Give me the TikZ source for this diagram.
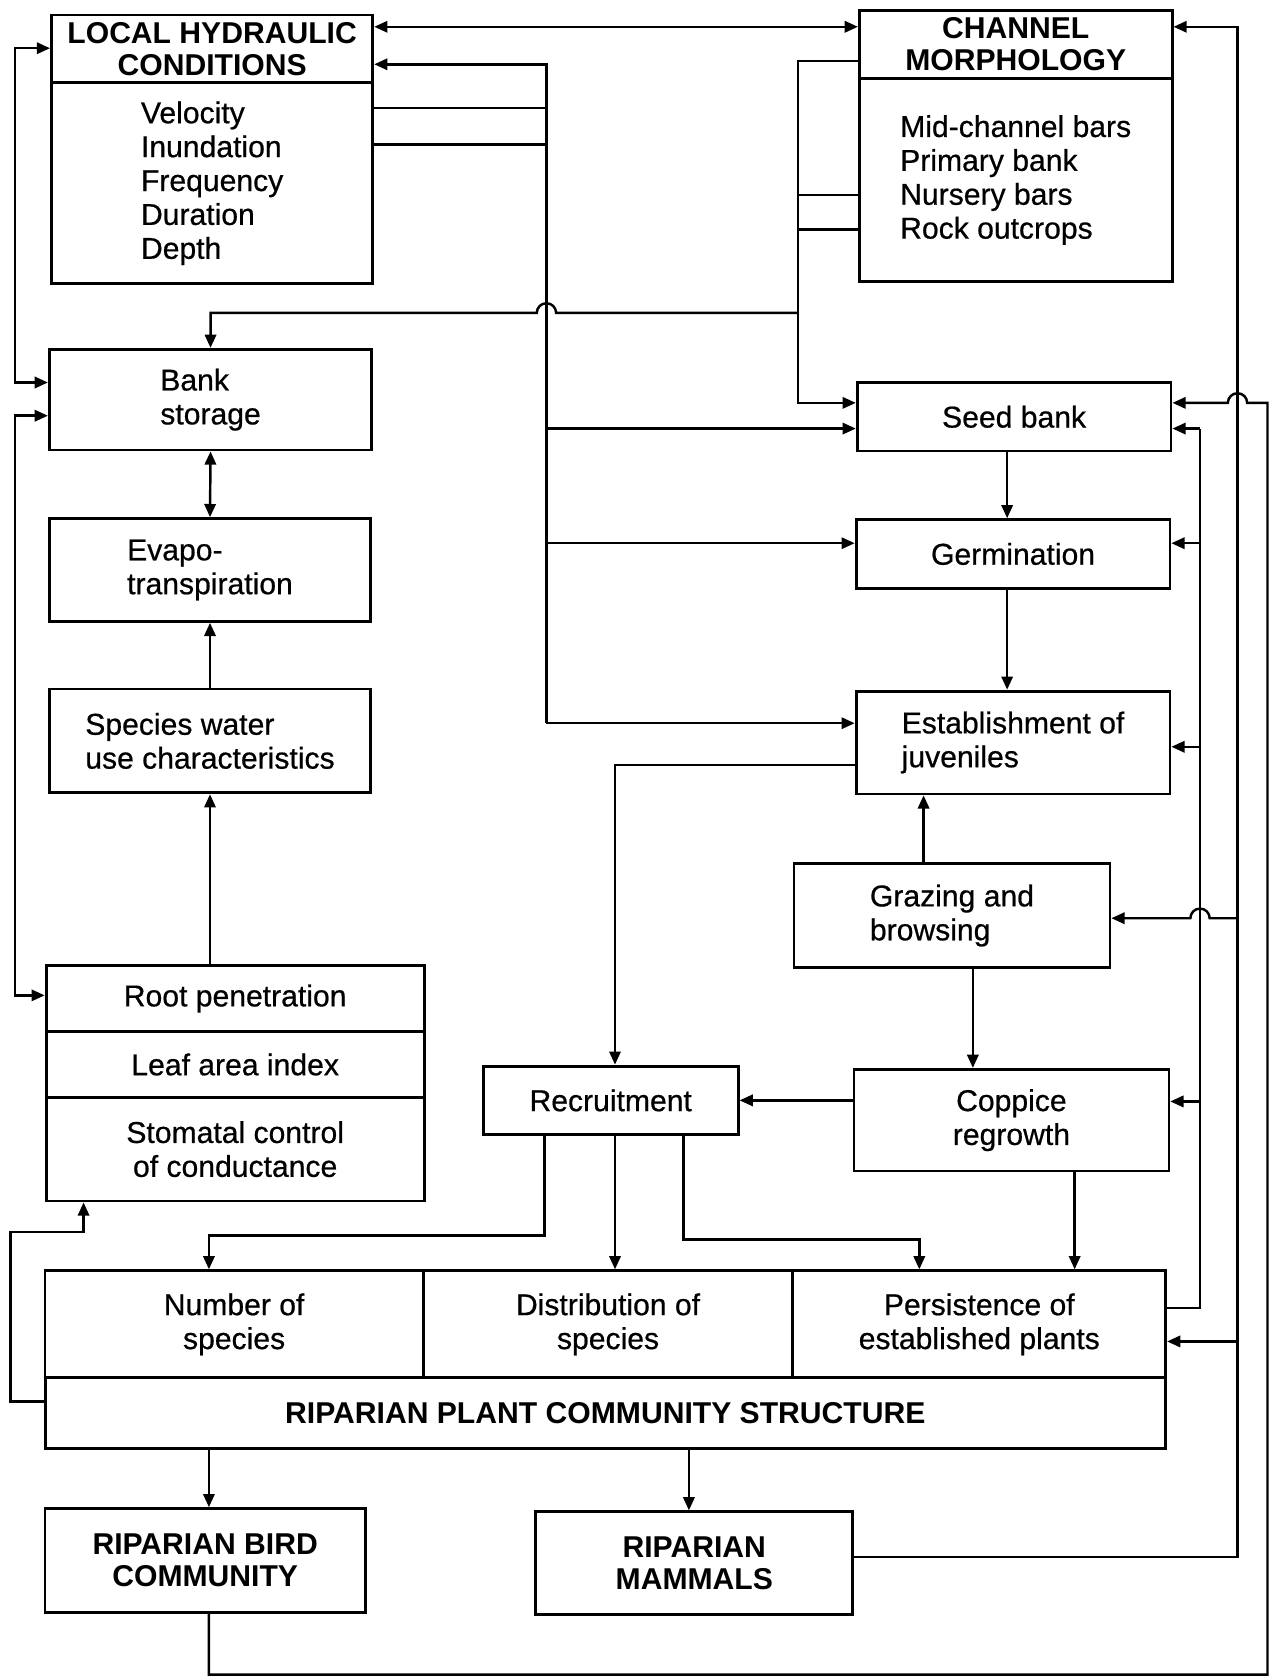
\documentclass[tikz,border=0pt]{standalone}
\usepackage{fontspec}
\setmainfont{Liberation Sans}
\newfontfamily\bodyfont[FakeBold=0.6]{Liberation Sans}
\usetikzlibrary{arrows.meta}

\begin{document}
\begin{tikzpicture}[x=0.02cm,y=-0.02cm,line width=1.3pt,
  font=\bodyfont\fontsize{16}{18}\selectfont,
  >={Triangle[length=7pt,width=6pt]},
  box/.style={draw,line width=1.5pt,inner sep=1pt,align=center},
  hd/.style={box,font=\normalfont\fontsize{16}{17}\selectfont\bfseries}]
\useasboundingbox (0,0) rectangle (1189,1568);
\node[hd,minimum width=6cm,minimum height=1.26cm] (lhct) at (198,45.5) {LOCAL HYDRAULIC\\CONDITIONS};
\node[box,align=left,minimum width=6cm,minimum height=3.76cm] (lhc) at (198,171) {Velocity\\Inundation\\Frequency\\Duration\\Depth};
\node[hd,minimum width=5.84cm,minimum height=1.26cm] (cmt) at (948,41.5) {CHANNEL\\MORPHOLOGY};
\node[box,align=left,minimum width=5.84cm,minimum height=3.8cm] (cm) at (948,168) {Mid-channel bars\\Primary bank\\Nursery bars\\Rock outcrops};
\node[box,align=left,minimum width=6.02cm,minimum height=1.88cm] (bank) at (196.5,373) {Bank\\storage};
\node[box,align=left,minimum width=6cm,minimum height=1.92cm] (evap) at (196,532) {Evapo-\\transpiration};
\node[box,align=left,minimum width=5.98cm,minimum height=1.94cm] (swu) at (196,691.5) {Species water\\use characteristics};
\node[box,minimum width=7.06cm,minimum height=1.24cm] (root) at (219.5,932) {Root penetration};
\node[box,minimum width=7.06cm,minimum height=1.22cm] (leaf) at (219.5,993.5) {Leaf area index};
\node[box,minimum width=7.06cm,minimum height=1.94cm] (stom) at (219.5,1072.5) {Stomatal control\\of conductance};
\node[box,minimum width=5.86cm,minimum height=1.28cm] (seed) at (946.5,389) {Seed bank};
\node[box,minimum width=5.86cm,minimum height=1.28cm] (germ) at (945.5,517) {Germination};
\node[box,align=left,minimum width=5.86cm,minimum height=1.92cm] (estab) at (945.5,693) {Establishment of\\juveniles};
\node[box,align=left,minimum width=5.9cm,minimum height=1.94cm] (graze) at (888.5,854.5) {Grazing and\\browsing};
\node[box,minimum width=5.88cm,minimum height=1.9cm] (copp) at (944,1045.5) {Coppice\\regrowth};
\node[box,minimum width=4.76cm,minimum height=1.28cm] (recr) at (570,1027) {Recruitment};
\node[box,minimum width=7.06cm,minimum height=2cm] (num) at (218.5,1236) {Number of\\species};
\node[box,minimum width=6.9cm,minimum height=2cm] (dist) at (567.5,1236) {Distribution of\\species};
\node[box,minimum width=6.96cm,minimum height=2cm] (pers) at (914,1236) {Persistence of\\established plants};
\node[hd,minimum width=20.92cm,minimum height=1.32cm] (rpcs) at (565,1319) {RIPARIAN PLANT COMMUNITY STRUCTURE};
\node[hd,minimum width=5.98cm,minimum height=1.94cm] (bird) at (191.5,1456.5) {RIPARIAN BIRD\\COMMUNITY};
\node[hd,minimum width=5.92cm,minimum height=1.92cm] (mamm) at (648,1459) {RIPARIAN\\MAMMALS};
\draw[<->] (lhct.east |- 0,25) -- (cmt.west |- 0,25);
\draw[<->] (lhct.west |- 0,45) -- (14,45) -- (14,357) -- (bank.west |- 0,357);
\draw[<->] (bank.west |- 0,388) -- (14,388) -- (14,929) -- (root.west |- 0,929);
\draw[<->] (bank.south) -- (evap.north);
\draw[->] (swu.north) -- (evap.south);
\draw[->] (root.north -| swu.south) -- (swu.south);
\draw[->] (745,292) -- (519,292) arc[start angle=0,end angle=-180,radius=9] -- (bank.north |- 0,292) -- (bank.north);
\draw[->] (cmt.west |- 0,57) -- (745,57) -- (745,376) -- (seed.west |- 0,376);
\draw (cm.west |- 0,182) -- (745,182);
\draw (cm.west |- 0,214) -- (745,214);
\draw (lhc.east |- 0,101) -- (510,101);
\draw (lhc.east |- 0,135) -- (510,135);
\draw[->] (510,675) -- (510,60) -- (lhct.east |- 0,60);
\draw[->] (510,400) -- (seed.west |- 0,400);
\draw[->] (510,507) -- (germ.west |- 0,507);
\draw[->] (510,675) -- (estab.west |- 0,675);
\draw[->] (seed.south -| 940,0) -- (germ.north -| 940,0);
\draw[->] (germ.south -| 940,0) -- (estab.north -| 940,0);
\draw[->] (graze.north -| 862,0) -- (estab.south -| 862,0);
\draw[->] (graze.south -| 908,0) -- (copp.north -| 908,0);
\draw[->] (copp.west |- recr.east) -- (recr.east);
\draw[->] (estab.west |- 0,714) -- (574,714) -- (recr.north -| 574,0);
\draw[->] (recr.south -| 508,0) -- (508,1153) -- (195,1153) -- (num.north -| 195,0);
\draw[->] (recr.south -| 574,0) -- (dist.north -| 574,0);
\draw[->] (recr.south -| 638,0) -- (638,1157) -- (858,1157) -- (pers.north -| 858,0);
\draw[->] (copp.south -| 1003,0) -- (pers.north -| 1003,0);
\draw[->] (rpcs.west |- 0,1308) -- (10,1308) -- (10,1150) -- (78,1150) -- (stom.south -| 78,0);
\draw[->] (rpcs.south -| 195,0) -- (bird.north -| 195,0);
\draw[->] (rpcs.south -| 643,0) -- (mamm.north -| 643,0);
\draw (pers.east |- 0,1221) -- (1120,1221) -- (1120,400);
\draw[->] (1120,400) -- (seed.east |- 0,400);
\draw[->] (1120,507) -- (germ.east |- 0,507);
\draw[->] (1120,697) -- (estab.east |- 0,697);
\draw[->] (1120,1028) -- (copp.east |- 0,1028);
\draw[->] (mamm.east |- 0,1453) -- (1155,1453) -- (1155,25) -- (cmt.east |- 0,25);
\draw[->] (1155,857) -- (1129,857) arc[start angle=0,end angle=-180,radius=9] -- (graze.east |- 0,857);
\draw[->] (1155,1252) -- (pers.east |- 0,1252);
\draw[->] (bird.south -| 195,0) -- (195,1563) -- (1183,1563) -- (1183,376) -- (1164,376) arc[start angle=0,end angle=-180,radius=9] -- (seed.east |- 0,376);
\end{tikzpicture}
\end{document}
